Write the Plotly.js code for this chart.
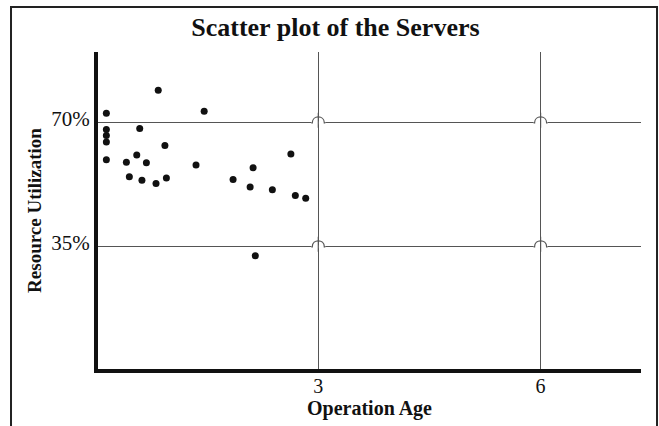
<!DOCTYPE html>
<html>
<head>
<meta charset="utf-8">
<script src="https://cdn.plot.ly/plotly-3.0.1.min.js"></script>
<style>
  html, body { margin: 0; padding: 0; background: #fff; }
  #chart { width: 659px; height: 426px; }
</style>
</head>
<body>
<div id="chart"></div>
<script>
// Data
const operationAge = [0.14, 0.84, 1.46, 0.14, 0.14, 0.14, 0.59, 0.93, 0.14, 0.41, 0.55, 0.68, 0.45, 0.62, 0.81, 0.95, 1.35, 1.85, 2.12, 2.08, 2.38, 2.63, 2.69, 2.83, 2.15];
const resourceUtilization = [72.7, 79.2, 73.3, 68.1, 66.4, 64.6, 68.4, 63.6, 59.6, 58.9, 60.9, 58.7, 54.8, 53.8, 52.9, 54.4, 58.1, 54.0, 57.3, 51.9, 51.1, 61.2, 49.5, 48.7, 32.5];

const xTickVals = [3, 6];
const xTickText = ['3', '6'];
const yTickVals = [35, 70];
const yTickText = ['35%', '70%'];

const serif = 'Liberation Serif, Times New Roman, serif';
const gridColor = '#555555';

// Line-jump "hops" where horizontal gridlines cross vertical gridlines
const shapes = [];
xTickVals.forEach(gx => {
  yTickVals.forEach(gy => {
    shapes.push({type: 'line', xref: 'x', yref: 'y', xsizemode: 'pixel', xanchor: gx,
      x0: -7, x1: 7, y0: gy, y1: gy, line: {color: 'white', width: 3}});
    shapes.push({type: 'line', xref: 'x', yref: 'y', ysizemode: 'pixel', yanchor: gy,
      x0: gx, x1: gx, y0: -5, y1: 10, line: {color: gridColor, width: 1.2}});
    shapes.push({type: 'path', xref: 'x', yref: 'y', xsizemode: 'pixel', ysizemode: 'pixel',
      xanchor: gx, yanchor: gy, path: 'M-7,0 L-6,0 C-6,8 6,8 6,0 L7,0',
      line: {color: gridColor, width: 1.2}});
  });
});
// Outer frame
shapes.push({type: 'rect', xref: 'paper', yref: 'paper',
  x0: -0.1602, x1: 1.0295, y0: -0.25, y1: 1.142,
  line: {color: '#222', width: 2}, fillcolor: 'rgba(0,0,0,0)'});

const trace = {
  type: 'scatter',
  mode: 'markers',
  x: operationAge,
  y: resourceUtilization,
  marker: {color: '#111', size: 7, line: {width: 0}},
  cliponaxis: false
};

const layout = {
  width: 659,
  height: 426,
  margin: {l: 98, r: 18, t: 52, b: 57},
  paper_bgcolor: '#fff',
  plot_bgcolor: '#fff',
  showlegend: false,
  title: {
    text: 'Scatter plot of the Servers',
    font: {family: serif, size: 26, color: '#111', weight: 700},
    xref: 'container', x: 0.509, xanchor: 'center',
    yref: 'container', y: 0.937, yanchor: 'middle'
  },
  xaxis: {
    range: [0.027, 7.355],
    tickvals: xTickVals,
    ticktext: xTickText,
    showgrid: true,
    gridcolor: gridColor,
    gridwidth: 1.2,
    zeroline: false,
    showline: true,
    linecolor: '#111',
    linewidth: 4,
    ticks: '',
    ticklabelstandoff: -4,
    tickfont: {family: serif, size: 20, color: '#111'},
    title: {text: 'Operation Age', font: {family: serif, size: 20, color: '#111', weight: 700}, standoff: 0}
  },
  yaxis: {
    range: [0.5, 90],
    tickvals: yTickVals,
    ticktext: yTickText,
    showgrid: true,
    gridcolor: gridColor,
    gridwidth: 1.2,
    zeroline: false,
    showline: true,
    linecolor: '#111',
    linewidth: 4,
    ticks: '',
    ticklabelshift: -4,
    tickfont: {family: serif, size: 21, color: '#111'},
    title: {text: 'Resource Utilization', font: {family: serif, size: 19, color: '#111', weight: 700}, standoff: 6}
  },
  shapes: shapes
};

Plotly.newPlot('chart', [trace], layout, {displayModeBar: false, staticPlot: true});
</script>
</body>
</html>
